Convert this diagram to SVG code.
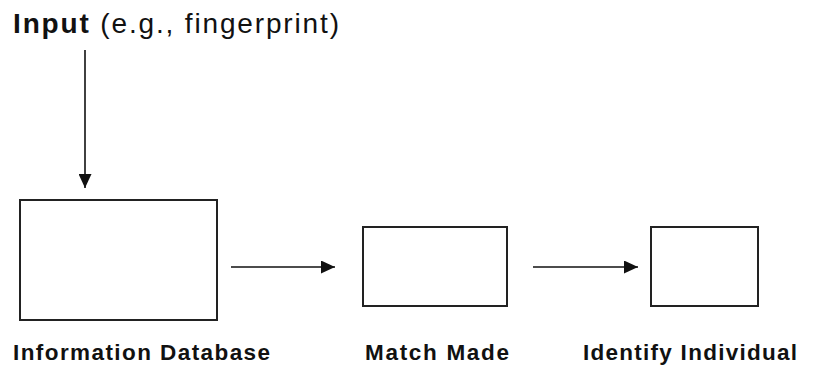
<svg xmlns="http://www.w3.org/2000/svg" width="814" height="368" viewBox="0 0 814 368">
<style>
.box{fill:#fff;stroke:#222;stroke-width:2}
.line{stroke:#111;stroke-width:1.6;fill:none}
.lbl{font-family:"Liberation Sans",Arial,sans-serif;font-weight:bold;font-size:22.5px;fill:#111}
.top{font-family:"Liberation Sans",Arial,sans-serif;font-size:28px;fill:#111}
</style>
<defs>
<marker id="ah" markerWidth="14" markerHeight="13" refX="14" refY="6.5" orient="auto" markerUnits="userSpaceOnUse">
<path d="M0,0 L14,6.5 L0,13 Z" fill="#111"/>
</marker>
</defs>
<rect width="814" height="368" fill="#fff"/>
<g id="input">
<text class="top" x="13" y="33" textLength="326" lengthAdjust="spacing"><tspan font-weight="bold">Input</tspan> (e.g., fingerprint)</text>
</g>
<g id="info-db">
<rect class="box" x="20" y="200" width="197" height="120"/>
<text class="lbl" x="13" y="360" textLength="257" lengthAdjust="spacing">Information Database</text>
</g>
<g id="match-made">
<rect class="box" x="363" y="227" width="144" height="79"/>
<text class="lbl" x="365" y="360" textLength="144" lengthAdjust="spacing">Match Made</text>
</g>
<g id="identify">
<rect class="box" x="651" y="227" width="107" height="79"/>
<text class="lbl" x="583" y="360" textLength="214" lengthAdjust="spacing">Identify Individual</text>
</g>
<g id="connectors">
<line class="line" x1="85" y1="50" x2="85" y2="188" marker-end="url(#ah)"/>
<line class="line" x1="231" y1="267" x2="335" y2="267" marker-end="url(#ah)"/>
<line class="line" x1="533" y1="267" x2="638" y2="267" marker-end="url(#ah)"/>
</g>
</svg>
